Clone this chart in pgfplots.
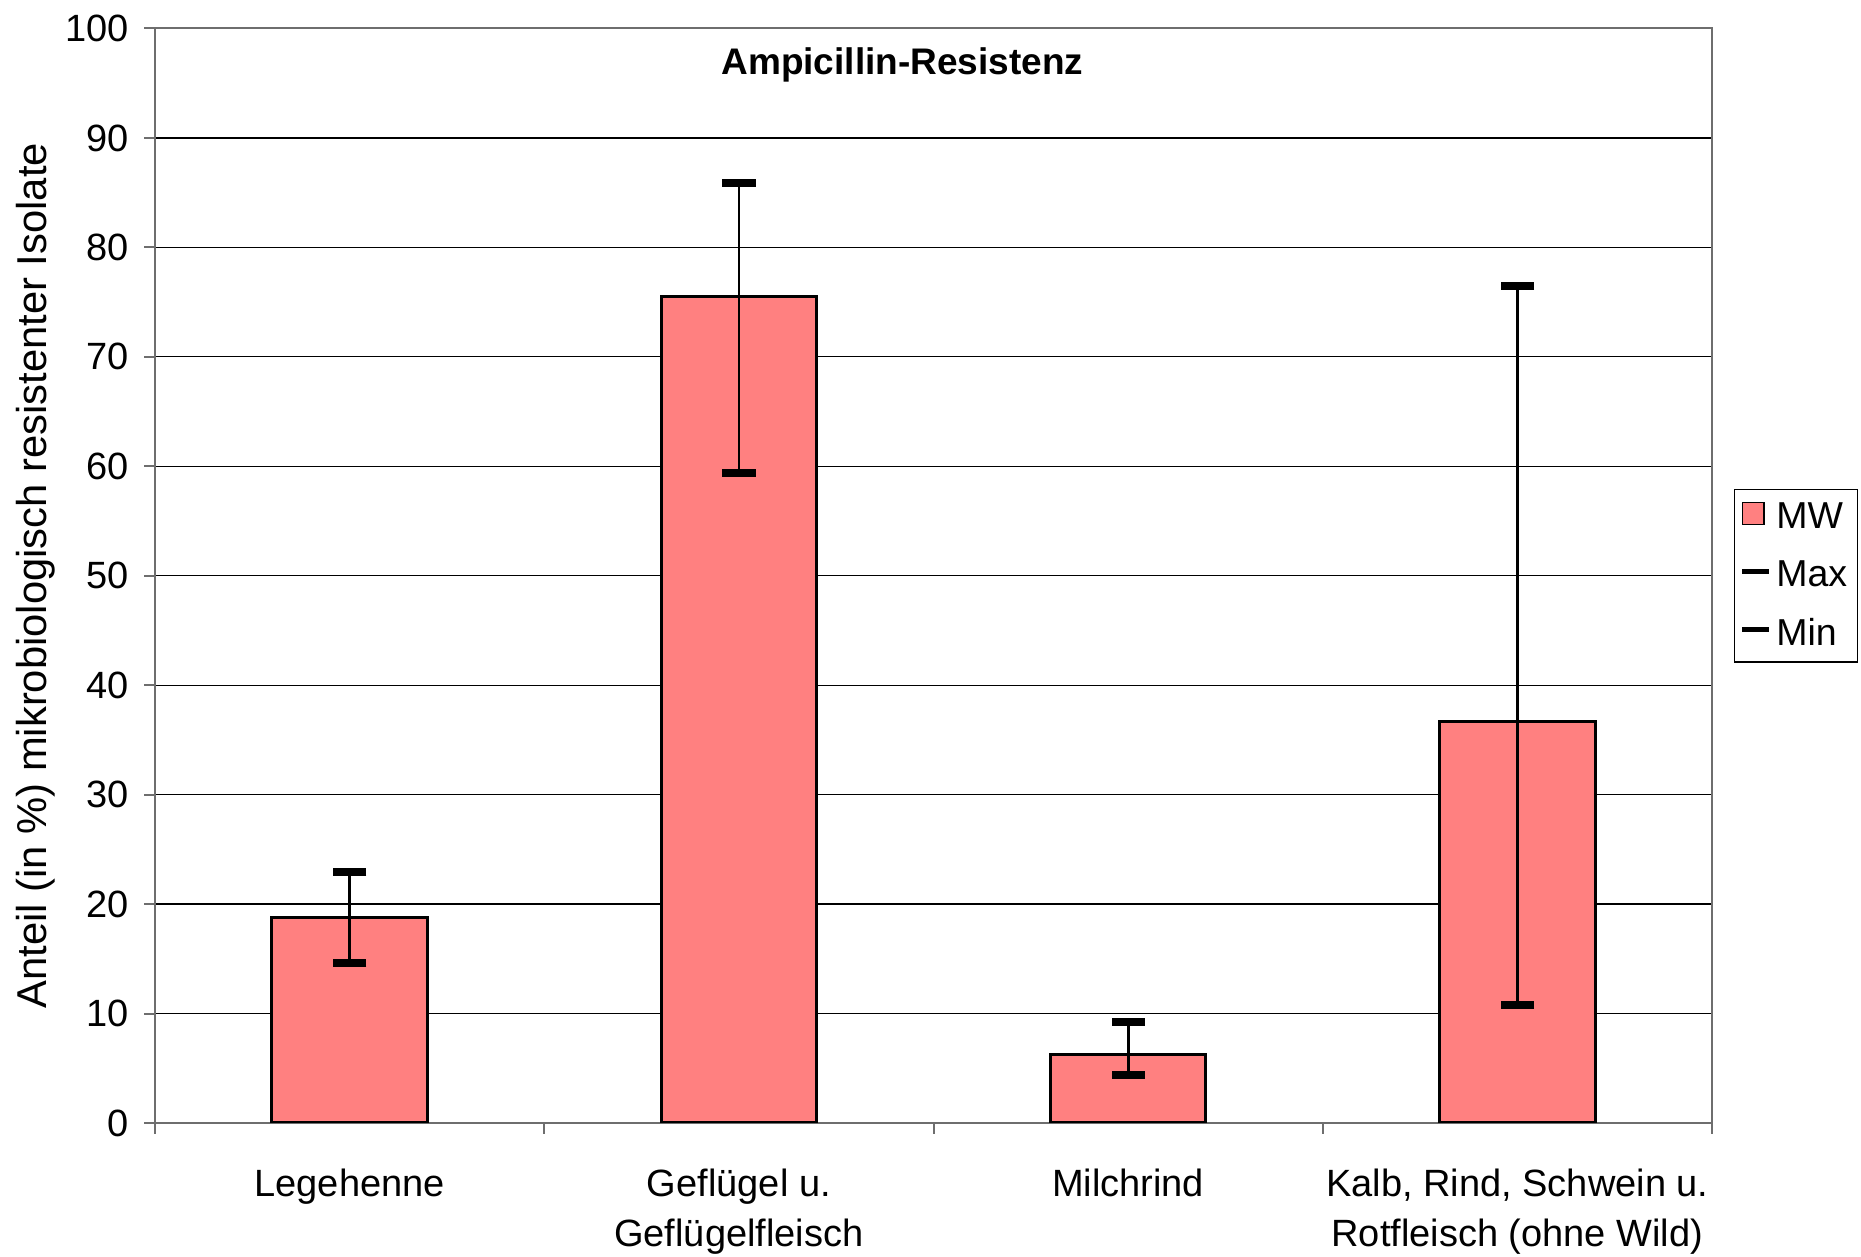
\documentclass[border=0pt]{standalone}
\usepackage{fontspec}
\setmainfont{Liberation Sans}
\usepackage{pgfplots}
\pgfplotsset{compat=1.18}
\definecolor{barfill}{RGB}{255,128,128}
\definecolor{frame}{RGB}{110,110,110}
\begin{document}
\begin{tikzpicture}
\useasboundingbox (0,0) rectangle (744.4pt,502.8pt);
\begin{axis}[
  at={(62pt,53.6pt)}, anchor=south west,
  width=622.8pt, height=437.8pt, scale only axis,
  xmin=-0.5, xmax=3.5, ymin=0, ymax=100,
  ytick={0,10,...,100},
  xtick={-0.5,0.5,1.5,2.5,3.5}, xticklabels={},
  extra x ticks={0,1,2,3},
  extra x tick labels={Legehenne,
    {\begin{tabular}[t]{@{}c@{}}Geflügel u.\\Geflügelfleisch\end{tabular}},
    Milchrind,
    {\begin{tabular}[t]{@{}c@{}}Kalb, Rind, Schwein u.\\Rotfleisch (ohne Wild)\end{tabular}}},
  extra x tick style={major tick length=0pt,
    tick label style={anchor=base, yshift=-29.4pt, inner sep=0pt}},
  xtick pos=left, ytick pos=left,
  tick align=outside, major tick length=4.3pt,
  tick style={frame, line width=0.8pt},
  axis line style={frame, line width=0.8pt},
  ymajorgrids, major grid style={black, line width=0.5pt},
  /pgf/number format/assume math mode=true,
  tick label style={font=\fontsize{15.2}{20}\selectfont},
  yticklabel style={anchor=east, inner sep=0pt, xshift=-6pt},
  title={Ampicillin-Resistenz},
  title style={at={(axis description cs:0.48,1)}, anchor=base, yshift=-24.6pt,
    font=\bfseries\fontsize{14.8}{17}\selectfont},
  ylabel={Anteil (in \%) mikrobiologisch resistenter Isolate},
  ylabel style={at={(axis description cs:-0.0695,0.5)}, anchor=base,
    font=\fontsize{16.7}{20}\selectfont},
  legend cell align=left,
  legend style={at={(axis description cs:1,0.5)}, anchor=west, xshift=8.8pt,
    draw=black, line width=0.5pt, font=\fontsize{15}{18}\selectfont,
    inner xsep=2pt, inner ysep=2.2pt, row sep=5.3pt,
    nodes={inner xsep=2pt, inner ysep=3pt}},
]
\addplot[ybar, bar width=0.4, bar shift=0pt, fill=barfill, draw=black, line width=1.2pt,
  legend image code/.code={\draw[fill=barfill,draw=black,line width=0.5pt] (0pt,-2.75pt) rectangle (8.7pt,5.95pt);},
  error bars/.cd, y dir=both, y explicit, error mark=none,
  error bar style={black, line width=1.1pt}]
  coordinates {
    (0,18.8) += (0,4.1) -= (0,4.15)
    (1,75.5) += (0,10.4) -= (0,16.1)
    (2,6.3) += (0,2.95) -= (0,1.9)
    (3,36.65) += (0,39.85) -= (0,25.85)
  };
\addlegendentry{MW}
\addplot[only marks, mark=-, mark size=6.65pt, mark options={black, line width=3.2pt},
  legend image code/.code={\draw[black,line width=2pt] (0pt,1.6pt) -- (10.7pt,1.6pt);}]
  coordinates {(0,22.9) (1,85.9) (2,9.25) (3,76.5)};
\addlegendentry{Max}
\addplot[only marks, mark=-, mark size=6.65pt, mark options={black, line width=3.2pt},
  legend image code/.code={\draw[black,line width=2pt] (0pt,1.6pt) -- (10.7pt,1.6pt);}]
  coordinates {(0,14.65) (1,59.4) (2,4.4) (3,10.8)};
\addlegendentry{Min}
\end{axis}
\end{tikzpicture}
\end{document}
